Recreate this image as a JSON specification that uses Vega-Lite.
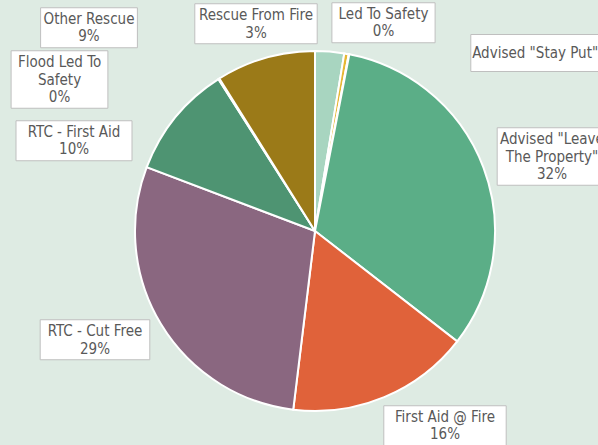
{
  "$schema": "https://vega.github.io/schema/vega-lite/v6.json",
  "autosize": {"type": "none"},
  "width": 566,
  "height": 428,
  "padding": {"left": 32, "top": 17, "right": 0, "bottom": 0},
  "background": "#deebe3",
  "view": {"stroke": null},
  "data": {
    "values": [
      {"i": 1, "cat": "Rescue From Fire", "v": 2.6, "lbl": "Rescue From Fire\n3%"},
      {"i": 2, "cat": "Led To Safety", "v": 0.4, "lbl": "Led To Safety\n0%"},
      {"i": 3, "cat": "Advised \"Stay Put\"", "v": 0.05, "lbl": "Advised \"Stay Put\" 0%"},
      {"i": 4, "cat": "Advised \"Leave The Property\"", "v": 32.4, "lbl": "Advised \"Leave\nThe Property\"\n32%"},
      {"i": 5, "cat": "First Aid @ Fire", "v": 16.4, "lbl": "First Aid @ Fire\n16%"},
      {"i": 6, "cat": "RTC - Cut Free", "v": 28.8, "lbl": "RTC - Cut Free\n29%"},
      {"i": 7, "cat": "RTC - First Aid", "v": 10.2, "lbl": "RTC - First Aid\n10%"},
      {"i": 8, "cat": "Flood Led To Safety", "v": 0.1, "lbl": "Flood Led To\nSafety\n0%"},
      {"i": 9, "cat": "Other Rescue", "v": 8.9, "lbl": "Other Rescue\n9%"}
    ]
  },
  "transform": [
    {"calculate": "split(datum.lbl, '\\n')", "as": "parts"},
    {"calculate": "length(datum.parts)", "as": "nl"},
    {"calculate": "max(length(datum.parts[0]), datum.nl > 1 ? length(datum.parts[1]) : 0, datum.nl > 2 ? length(datum.parts[2]) : 0)", "as": "maxlen"},
    {"calculate": "(datum.maxlen * 6.4 + 20) / 200", "as": "hw"},
    {"calculate": "datum.nl == 1 ? -0.185 : -0.1125", "as": "top"},
    {"calculate": "datum.nl == 1 ? 0.185 : (datum.nl - 1) * 0.175 + 0.1125", "as": "bot"},
    {"calculate": "'M' + (-datum.hw) + ',' + datum.top + 'H' + datum.hw + 'V' + datum.bot + 'H' + (-datum.hw) + 'Z'", "as": "boxpath"}
  ],
  "layer": [
    {
      "mark": {"type": "arc", "outerRadius": 180, "stroke": "#ffffff", "strokeWidth": 2},
      "encoding": {
        "theta": {"field": "v", "type": "quantitative", "stack": true},
        "order": {"field": "i", "type": "quantitative"},
        "color": {
          "field": "cat", "type": "nominal", "legend": null,
          "scale": {
            "domain": ["Rescue From Fire", "Led To Safety", "Advised \"Stay Put\"", "Advised \"Leave The Property\"", "First Aid @ Fire", "RTC - Cut Free", "RTC - First Aid", "Flood Led To Safety", "Other Rescue"],
            "range": ["#a8d5c0", "#e6b733", "#c9a93a", "#5bae87", "#e0623a", "#8a6780", "#4e9472", "#6f8fa8", "#9b7a18"]
          }
        }
      }
    },
    {
      "mark": {"type": "point", "filled": true, "fill": "#ffffff", "stroke": "#bfbfbf", "strokeWidth": 1, "opacity": 1, "fillOpacity": 1, "strokeOpacity": 1},
      "encoding": {
        "x": {"field": "i", "type": "quantitative", "axis": null, "scale": {"domain": [1, 2, 3, 4, 5, 6, 7, 8, 9], "range": [224, 351.5, 516, 520, 413, 63, 42, 27.5, 57], "nice": false, "zero": false}},
        "y": {"field": "i", "type": "quantitative", "axis": null, "scale": {"domain": [1, 2, 3, 4, 5, 6, 7, 8, 9], "range": [-2, -3, 36, 122, 400, 314, 115, 45, 2], "nice": false, "zero": false}},
        "shape": {"field": "boxpath", "type": "nominal", "scale": null},
        "size": {"value": 40000}
      }
    },
    {
      "mark": {"type": "text", "font": "DejaVu Sans Condensed", "fontSize": 15, "lineHeight": 17.5, "lineBreak": "\n", "align": "center", "baseline": "middle", "fill": "#595959"},
      "encoding": {
        "theta": {"field": "i", "type": "quantitative", "stack": null, "scale": {"domain": [1, 2, 3, 4, 5, 6, 7, 8, 9], "range": [6.0167, 0.3058, 0.9184, 1.2006, 2.5316, 4.2858, 5.1023, 5.2968, 5.4658]}},
        "radius": {"field": "i", "type": "quantitative", "scale": {"type": "linear", "zero": false, "domain": [1, 2, 3, 4, 5, 6, 7, 8, 9], "range": [223.9, 227.6, 293.2, 254.2, 226.9, 241.7, 260.5, 306.3, 309.9]}},
        "text": {"field": "lbl"}
      }
    }
  ],
  "resolve": {"scale": {"theta": "independent", "radius": "independent", "x": "shared", "y": "shared"}}
}
